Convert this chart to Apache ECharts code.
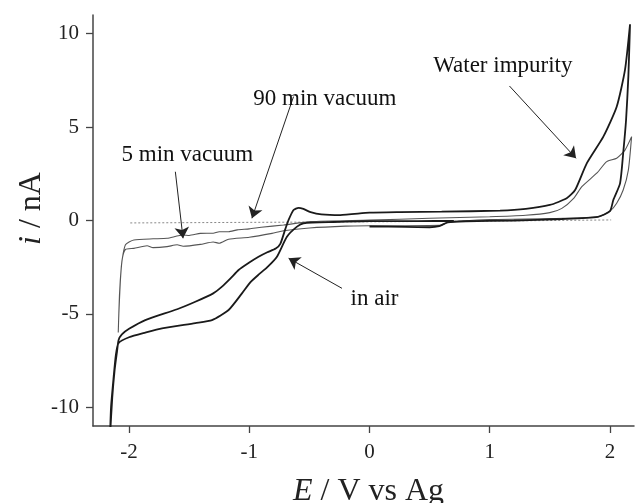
<!DOCTYPE html>
<html><head><meta charset="utf-8">
<script src="https://cdn.jsdelivr.net/npm/echarts@6/dist/echarts.min.js"></script>
<style>html,body{margin:0;padding:0;background:#fff}#c{width:636px;height:503px}</style>
</head><body><div id="c"></div>
<script>
// ---- data (E / V vs Ag, i / nA) ----
const xTicks = [-2, -1, 0, 1, 2];
const yTicks = [-10, -5, 0, 5, 10];

const inAir = [
  [0,-0.32],[0.3,-0.34],[0.5,-0.36],[0.58,-0.3],[0.65,-0.1],[0.8,-0.04],[1.2,0.0],[1.6,0.08],[1.9,0.2],
  [2.0,0.5],[2.028,1.1],[2.084,1.99],[2.11,3.6],[2.134,5.38],[2.153,7.7],[2.167,10.5],
  [2.125,8.06],[2.056,6.09],[1.945,4.49],[1.807,3.06],[1.71,1.63],[1.64,1.19],[1.5,0.83],[1.3,0.62],
  [1.086,0.53],[0.6,0.47],[0.253,0.45],[0,0.42],[-0.244,0.29],[-0.4,0.33],[-0.49,0.45],[-0.55,0.62],
  [-0.59,0.68],[-0.632,0.56],[-0.673,0.03],[-0.70,-0.45],[-0.742,-1.25],[-0.78,-1.5],[-0.85,-1.7],
  [-0.923,-1.94],[-1.0,-2.25],[-1.089,-2.65],[-1.156,-3.1],[-1.227,-3.54],[-1.3,-3.9],[-1.449,-4.35],
  [-1.6,-4.75],[-1.865,-5.33],[-2.0,-5.8],[-2.06,-6.1],[-2.087,-6.4],[-2.1,-7],[-2.12,-8],[-2.14,-9.5],
  [-2.158,-11.5],
  [-2.15,-10],[-2.13,-8.5],[-2.11,-7.2],[-2.087,-6.56],[-2.0,-6.25],[-1.865,-6.0],[-1.726,-5.77],
  [-1.449,-5.49],[-1.31,-5.33],[-1.172,-4.79],[-1.061,-3.9],[-0.99,-3.3],[-0.923,-2.9],[-0.85,-2.5],
  [-0.77,-1.94],[-0.687,-0.87],[-0.603,-0.33],[-0.549,-0.15],[-0.3,-0.08],[0,-0.03],[0.4,-0.03],[0.7,-0.02]
];

const vac5 = [
  [0,-0.28],[0.3,-0.28],[0.6,-0.25],[0.65,-0.1],[1.0,0.05],[1.5,0.1],[1.9,0.2],[2.0,0.5],[2.056,0.92],
  [2.11,1.63],[2.153,2.7],[2.18,4.49],
  [2.125,3.77],[2.056,3.33],[1.973,3.15],[1.89,2.53],[1.766,1.81],[1.7,1.2],[1.6,0.65],[1.5,0.42],
  [1.3,0.28],[1.0,0.2],[0.5,0.12],[0,0.02],[-0.49,-0.06],[-0.715,-0.24],[-0.9,-0.36],[-1.0,-0.45],
  [-1.1,-0.5],[-1.172,-0.6],[-1.25,-0.6],[-1.3,-0.68],[-1.407,-0.69],[-1.5,-0.8],[-1.55,-0.78],
  [-1.684,-0.95],[-1.8,-0.98],[-1.96,-1.04],[-2.0,-1.15],[-2.03,-1.3],[-2.05,-1.8],[-2.065,-2.5],
  [-2.08,-4],[-2.09,-6.0],
  [-2.085,-5],[-2.07,-3],[-2.055,-2.0],[-2.03,-1.55],[-1.96,-1.49],[-1.85,-1.35],[-1.8,-1.45],
  [-1.684,-1.4],[-1.6,-1.3],[-1.55,-1.38],[-1.407,-1.28],[-1.3,-1.15],[-1.25,-1.22],[-1.172,-1.0],
  [-1.0,-0.9],[-0.811,-0.69],[-0.715,-0.55],[-0.5,-0.4],[-0.2,-0.3],[0,-0.28]
];

const vac90 = [
  [-1.99,-0.13],[-1.0,-0.1],[0,-0.07],[1.0,-0.03],[2.01,0.03]
];

const annTexts = ['90 min vacuum', '5 min vacuum', 'Water impurity', 'in air'];
const annTextAt = [[-0.372,6.5],[-1.515,3.5],[1.109,8.27],[0.042,-4.2]];
const arrowFrom = [[-0.632,6.63],[-1.615,2.61],[1.164,7.2],[-0.229,-3.63]];
const arrowTo = [[-0.978,0.12],[-1.551,-0.95],[1.718,3.33],[-0.673,-2.02]];

// ---- chart ----
const FONT = '"Liberation Serif","DejaVu Serif",serif';
const chart = echarts.init(document.getElementById('c'), null, {renderer:'canvas'});
const axisCommon = {
  axisLine:{show:true, onZero:false, lineStyle:{color:'#444', width:1.5}},
  axisTick:{show:true, inside:false, length:7, lineStyle:{color:'#444', width:1.3}},
  splitLine:{show:false},
  axisLabel:{color:'#222', fontFamily:FONT, fontSize:21}
};
chart.setOption({
  animation:false,
  backgroundColor:'#fff',
  grid:{left:93, right:2, top:15, bottom:77, containLabel:false, outerBoundsMode:'none'},
  xAxis:{
    type:'value', min:-2.3, max:2.2,
    name:'{it|E} / V vs Ag', nameLocation:'middle', nameGap:50, nameMoveOverlap:false,
    nameTextStyle:{fontFamily:FONT, fontSize:32, color:'#222', padding:[0,0,0,10],
      rich:{it:{fontStyle:'italic', fontFamily:FONT, fontSize:32, color:'#222'}}},
    ...axisCommon,
    axisTick:{...axisCommon.axisTick, customValues:xTicks},
    axisLabel:{...axisCommon.axisLabel, margin:16, customValues:xTicks, formatter:v=>String(v)}
  },
  yAxis:{
    type:'value', min:-11, max:11,
    name:'{it|i} / nA', nameLocation:'middle', nameGap:45, nameRotate:90, nameMoveOverlap:false,
    nameTextStyle:{fontFamily:FONT, fontSize:32, color:'#222', padding:[0,0,0,24],
      rich:{it:{fontStyle:'italic', fontFamily:FONT, fontSize:32, color:'#222'}}},
    ...axisCommon,
    axisTick:{...axisCommon.axisTick, customValues:yTicks},
    axisLabel:{...axisCommon.axisLabel, margin:14, customValues:yTicks, formatter:v=>String(v)}
  },
  series:[
    {name:'90 min vacuum', type:'line', data:vac90, showSymbol:false, symbol:'none',
     lineStyle:{color:'#888', width:1, type:[2,2]}, z:2},
    {name:'5 min vacuum', type:'line', data:vac5, showSymbol:false, symbol:'none', smooth:0.2,
     lineStyle:{color:'#555', width:1.1}, z:3},
    {name:'in air', type:'line', data:inAir, showSymbol:false, symbol:'none', smooth:0.2,
     lineStyle:{color:'#1a1a1a', width:1.8}, z:4},
    {name:'annotations', type:'line', data:[], symbol:'none', z:5,
     markLine:{silent:true, animation:false, symbol:['none','arrow'], symbolSize:11,
       itemStyle:{color:'#222'},
       lineStyle:{color:'#222', width:1, type:'solid'}, label:{show:false},
       data: arrowFrom.map((f,k)=>[{coord:f},{coord:arrowTo[k]}])},
     markPoint:{silent:true, animation:false, symbol:'circle', symbolSize:0,
       label:{show:true, position:'inside', fontFamily:FONT, fontSize:23, color:'#111',
         formatter:p=>p.name},
       data: annTexts.map((t,k)=>({name:t, coord:annTextAt[k]}))}
    }
  ]
});
</script></body></html>
